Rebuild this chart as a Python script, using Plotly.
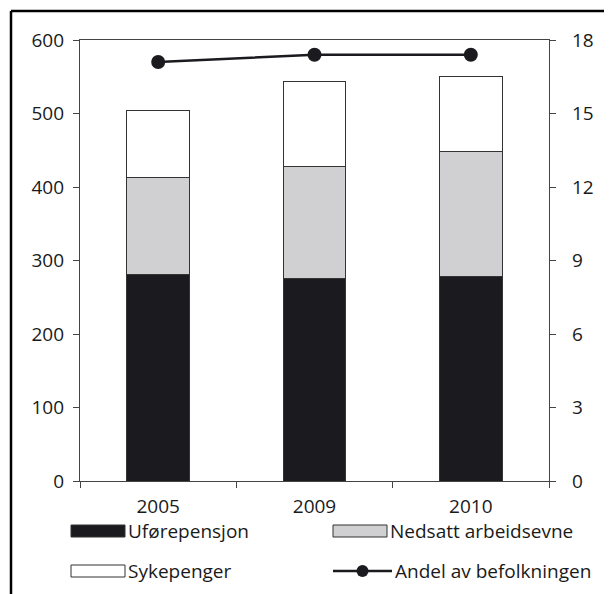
import plotly.graph_objects as go

years = ["2005", "2009", "2010"]
uforepensjon = [281, 275, 278]
nedsatt = [132, 153, 170]
sykepenger = [91, 116, 103]
andel = [17.1, 17.4, 17.4]

left_ticks = [0, 100, 200, 300, 400, 500, 600]
right_ticks = [0, 3, 6, 9, 12, 15, 18]

FONT = "Open Sans"
BLACK = "#1b1a1f"
GRAY = "#d0d0d2"
EDGE = "#333333"
AX = "#444444"
FS = 19

fig = go.Figure()
fig.add_bar(x=years, y=uforepensjon, name="Uførepensjon",
            marker=dict(color=BLACK, line=dict(color=EDGE, width=1)))
fig.add_bar(x=years, y=nedsatt, name="Nedsatt arbeidsevne",
            marker=dict(color=GRAY, line=dict(color=EDGE, width=1)))
fig.add_bar(x=years, y=sykepenger, name="Sykepenger",
            marker=dict(color="white", line=dict(color=EDGE, width=1)))
fig.add_scatter(x=years, y=andel, name="Andel av befolkningen", yaxis="y2",
                mode="lines+markers",
                line=dict(color=BLACK, width=2.5),
                marker=dict(color=BLACK, size=14))

# page has an 8px body margin; work in screenshot coordinates and shift
OFF = 8
W, H = 612, 594
L, R, T, B = 80, 549, 40, 481
pw, ph = R - L, B - T

def px(x):
    return (x - L) / pw

def py(y):
    return (B - y) / ph

shapes = [
    dict(type="line", xref="paper", yref="paper", x0=px(11), x1=px(640),
         y0=py(11), y1=py(11), line=dict(color="black", width=2.5)),
    dict(type="line", xref="paper", yref="paper", x0=px(11), x1=px(11),
         y0=py(11), y1=py(620), line=dict(color="black", width=2.5)),
]
annotations = []

legend_items = [
    ("Uførepensjon", "bar", BLACK, 71, 531),
    ("Nedsatt arbeidsevne", "bar", GRAY, 333, 531),
    ("Sykepenger", "bar", "white", 71, 571),
    ("Andel av befolkningen", "line", BLACK, 333, 571),
]
for label, kind, color, x0, yc in legend_items:
    if kind == "bar":
        shapes.append(dict(type="rect", xref="paper", yref="paper",
                           x0=px(x0), x1=px(x0 + 54), y0=py(yc + 6), y1=py(yc - 6),
                           fillcolor=color, line=dict(color=EDGE, width=1)))
    else:
        shapes.append(dict(type="line", xref="paper", yref="paper",
                           x0=px(x0), x1=px(x0 + 59), y0=py(yc), y1=py(yc),
                           line=dict(color=BLACK, width=2.5)))
        shapes.append(dict(type="circle", xref="paper", yref="paper",
                           x0=px(x0 + 29.5 - 6), x1=px(x0 + 29.5 + 6),
                           y0=py(yc + 6), y1=py(yc - 6),
                           fillcolor=BLACK, line=dict(color=BLACK, width=0)))
    tx = x0 + (55 if kind == "bar" else 60)
    annotations.append(dict(xref="paper", yref="paper", x=px(tx), y=py(yc),
                            xanchor="left", yanchor="middle", showarrow=False,
                            text=label, font=dict(family=FONT, size=FS, color="#1a1a1a")))

fig.update_layout(
    width=W, height=H,
    margin=dict(l=L - OFF, r=W - R + OFF, t=T - OFF, b=H - B + OFF, pad=0),
    paper_bgcolor="white", plot_bgcolor="white",
    barmode="stack", bargap=0.6,
    showlegend=False,
    font=dict(family=FONT, size=FS, color="#1a1a1a"),
    xaxis=dict(type="category", showline=True, linecolor=AX, linewidth=1.2,
               mirror=True, ticks="outside", ticklen=6, tickcolor=AX,
               tickson="boundaries", showgrid=False, ticklabelstandoff=8),
    yaxis=dict(range=[0, 600], tickvals=left_ticks, showline=True, linecolor=AX,
               linewidth=1.2, ticks="outside", ticklen=6, tickcolor=AX,
               showgrid=False, zeroline=False, ticklabelstandoff=5),
    yaxis2=dict(range=[0, 18], tickvals=right_ticks, overlaying="y", side="right",
                showline=True, linecolor=AX, linewidth=1.2, ticks="outside",
                ticklen=6, tickcolor=AX, showgrid=False, zeroline=False,
                ticklabelstandoff=12),
    shapes=shapes,
    annotations=annotations,
)

fig.write_html("out.html")
